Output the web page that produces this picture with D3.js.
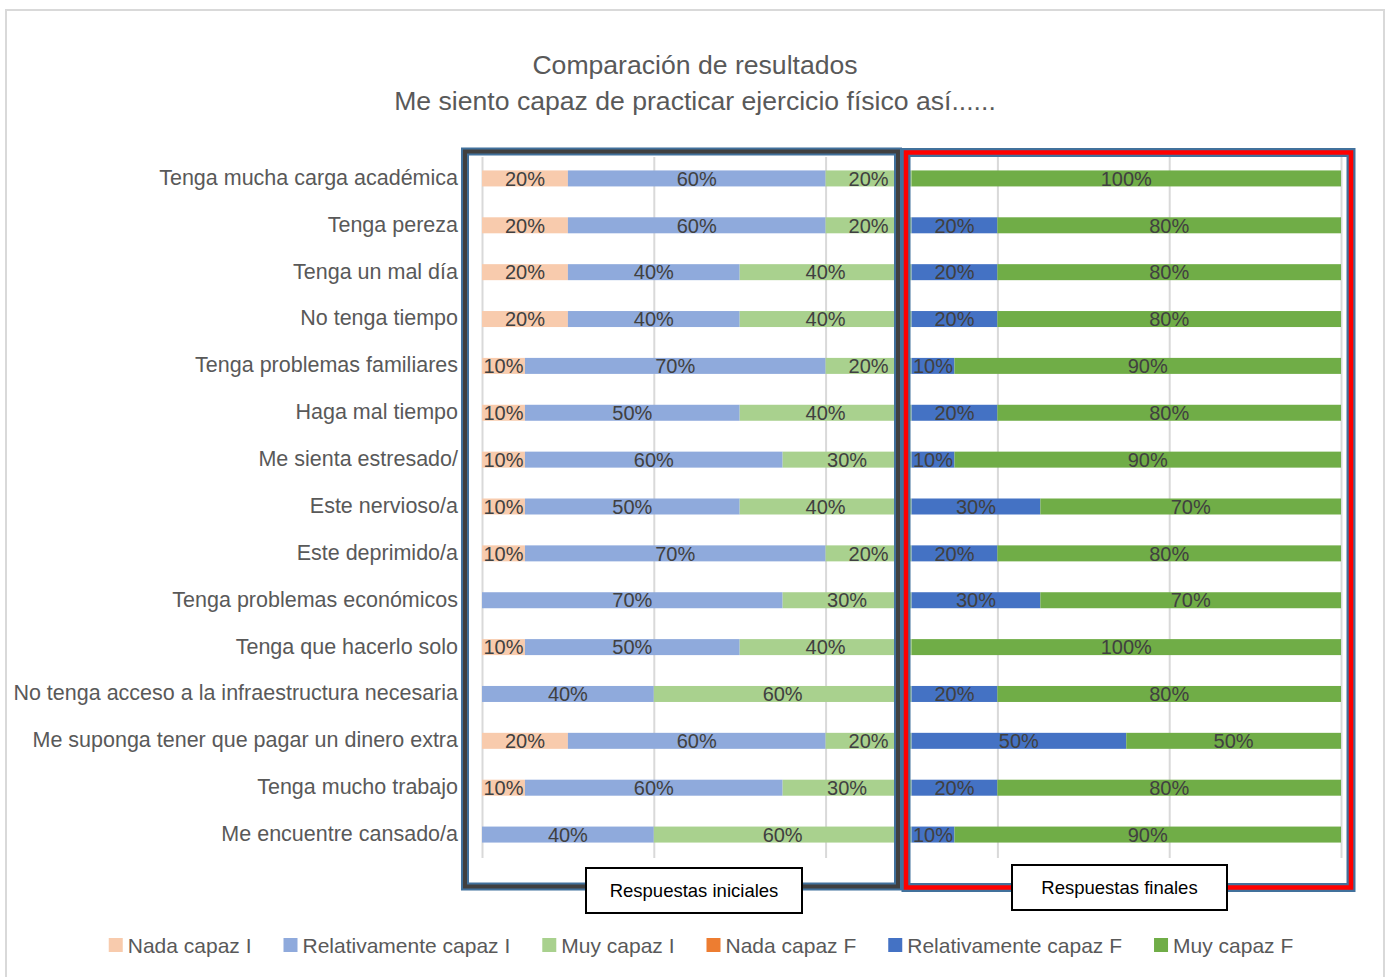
<!DOCTYPE html>
<html>
<head>
<meta charset="utf-8">
<script src="https://cdn.jsdelivr.net/npm/d3@7"></script>
<style>
  body { margin: 0; background: #fff; }
  svg text { font-family: "Liberation Sans", Arial, sans-serif; }
</style>
</head>
<body>
<svg id="chart" width="1386" height="977"></svg>
<script>
// categories top to bottom
const categories = [
  "Tenga mucha carga académica",
  "Tenga pereza",
  "Tenga un mal día",
  "No tenga tiempo",
  "Tenga problemas familiares",
  "Haga mal tiempo",
  "Me sienta estresado/",
  "Este nervioso/a",
  "Este deprimido/a",
  "Tenga problemas económicos",
  "Tenga que hacerlo solo",
  "No tenga acceso a la infraestructura necesaria",
  "Me suponga tener que pagar un dinero extra",
  "Tenga mucho trabajo",
  "Me encuentre cansado/a"
];

const nadaI = [20, 20, 20, 20, 10, 10, 10, 10, 10, 0, 10, 0, 20, 10, 0];
const relI  = [60, 60, 40, 40, 70, 50, 60, 50, 70, 70, 50, 40, 60, 60, 40];
const muyI  = [20, 20, 40, 40, 20, 40, 30, 40, 20, 30, 40, 60, 20, 30, 60];
const nadaF = [0, 0, 0, 0, 0, 0, 0, 0, 0, 0, 0, 0, 0, 0, 0];
const relF  = [0, 20, 20, 20, 10, 20, 10, 30, 20, 30, 0, 20, 50, 20, 10];
const muyF  = [100, 80, 80, 80, 90, 80, 90, 70, 80, 70, 100, 80, 50, 80, 90];

const seriesNames = ["Nada capaz I", "Relativamente capaz I", "Muy capaz I",
                     "Nada capaz F", "Relativamente capaz F", "Muy capaz F"];
const colors = ["#f8cbad", "#8faadc", "#a9d18e", "#ed7d31", "#4472c4", "#70ad47"];
const gridTicks = [0, 40, 80, 120, 160, 200];

const svg = d3.select("#chart");
const W = 1386, H = 977;

// outer chart frame
svg.append("rect")
  .attr("x", 6).attr("y", 10)
  .attr("width", 1378).attr("height", 980)
  .attr("fill", "#fff")
  .attr("stroke", "#d9d9d9").attr("stroke-width", 2);

// title
const title = svg.append("text")
  .attr("text-anchor", "middle")
  .attr("fill", "#595959")
  .style("font-size", "26.6px");
title.append("tspan").attr("x", 695).attr("y", 74).text("Comparación de resultados");
title.append("tspan").attr("x", 695).attr("y", 110).text("Me siento capaz de practicar ejercicio físico así......");

const margin = { left: 482, right: W - 1341, top: 155, bottom: H - 858 };

const x = d3.scaleLinear().domain([0, 200]).range([margin.left, W - margin.right]);
const y = d3.scaleBand().domain(categories).range([margin.top, H - margin.bottom]).padding(0);
const barH = 16;

// gridlines
svg.append("g")
  .attr("transform", `translate(0,${H - margin.bottom})`)
  .call(d3.axisBottom(x).tickValues(gridTicks)
    .tickSize(-(H - margin.bottom - margin.top - 2)).tickFormat(""))
  .call(g => g.select(".domain").remove())
  .call(g => g.selectAll(".tick line").attr("stroke", "#d9d9d9").attr("stroke-width", 2));

// category labels
svg.append("g")
  .attr("transform", `translate(${margin.left},0)`)
  .call(d3.axisLeft(y).tickSize(0).tickPadding(24))
  .call(g => g.select(".domain").remove())
  .call(g => g.selectAll("text")
    .attr("fill", "#595959")
    .attr("dy", "0.3em")
    .style("font-size", "21.5px")
    .style("font-family", "'Liberation Sans', Arial, sans-serif"));

// stacked data
const series = [nadaI, relI, muyI, nadaF, relF, muyF];
const rows = categories.map((c, i) => {
  const r = { cat: c };
  seriesNames.forEach((s, k) => { r[s] = series[k][i]; });
  return r;
});
const stacked = d3.stack().keys(seriesNames)(rows);

const layers = svg.append("g").selectAll("g")
  .data(stacked)
  .join("g")
  .attr("fill", (d, i) => colors[i]);

layers.selectAll("rect")
  .data(d => d)
  .join("rect")
  .attr("x", d => x(d[0]))
  .attr("width", d => x(d[1]) - x(d[0]))
  .attr("y", d => y(d.data.cat) + y.bandwidth() / 2 - barH / 2)
  .attr("height", barH);

// data labels
const labels = svg.append("g");
stacked.forEach(layer => {
  layer.forEach(d => {
    const v = d[1] - d[0];
    if (v <= 0) return;
    labels.append("text")
      .attr("x", x((d[0] + d[1]) / 2))
      .attr("y", y(d.data.cat) + y.bandwidth() / 2)
      .attr("dy", "0.36em")
      .attr("text-anchor", "middle")
      .attr("fill", "#404040")
      .style("font-size", "20px")
      .text(v + "%");
  });
});

// annotation frames
svg.append("rect")
  .attr("x", 465).attr("y", 151.5).attr("width", 433).attr("height", 735)
  .attr("fill", "none").attr("stroke", "#41719c").attr("stroke-width", 8);
svg.append("rect")
  .attr("x", 465).attr("y", 151.5).attr("width", 433).attr("height", 735)
  .attr("fill", "none").attr("stroke", "#404040").attr("stroke-width", 4);

svg.append("rect")
  .attr("x", 906).attr("y", 152.5).attr("width", 445).attr("height", 735)
  .attr("fill", "none").attr("stroke", "#41719c").attr("stroke-width", 9);
svg.append("rect")
  .attr("x", 906).attr("y", 152.5).attr("width", 445).attr("height", 735)
  .attr("fill", "none").attr("stroke", "#ff0000").attr("stroke-width", 4.5);

const boxes = [
  { text: "Respuestas iniciales", x: 586, y: 868, w: 216, h: 45 },
  { text: "Respuestas finales", x: 1012, y: 865, w: 215, h: 45 }
];
boxes.forEach(b => {
  svg.append("rect")
    .attr("x", b.x).attr("y", b.y).attr("width", b.w).attr("height", b.h)
    .attr("fill", "#fff").attr("stroke", "#000").attr("stroke-width", 2);
  svg.append("text")
    .attr("x", b.x + b.w / 2).attr("y", b.y + b.h / 2)
    .attr("dy", "0.36em")
    .attr("text-anchor", "middle")
    .attr("fill", "#000")
    .style("font-size", "18.5px")
    .text(b.text);
});

// legend
const legend = svg.append("g");
let lx = 0;
seriesNames.forEach((s, i) => {
  const g = legend.append("g");
  g.append("rect").attr("y", -7).attr("width", 14).attr("height", 14).attr("fill", colors[i]);
  const t = g.append("text").attr("x", 19).attr("dy", "0.36em")
    .attr("fill", "#595959").style("font-size", "21px").text(s);
  const w = 19 + t.node().getComputedTextLength();
  g.attr("transform", `translate(${lx},0)`);
  lx += w + 32;
});
const legendW = lx - 32;
legend.attr("transform", `translate(${701 - legendW / 2},945)`);
</script>
</body>
</html>
